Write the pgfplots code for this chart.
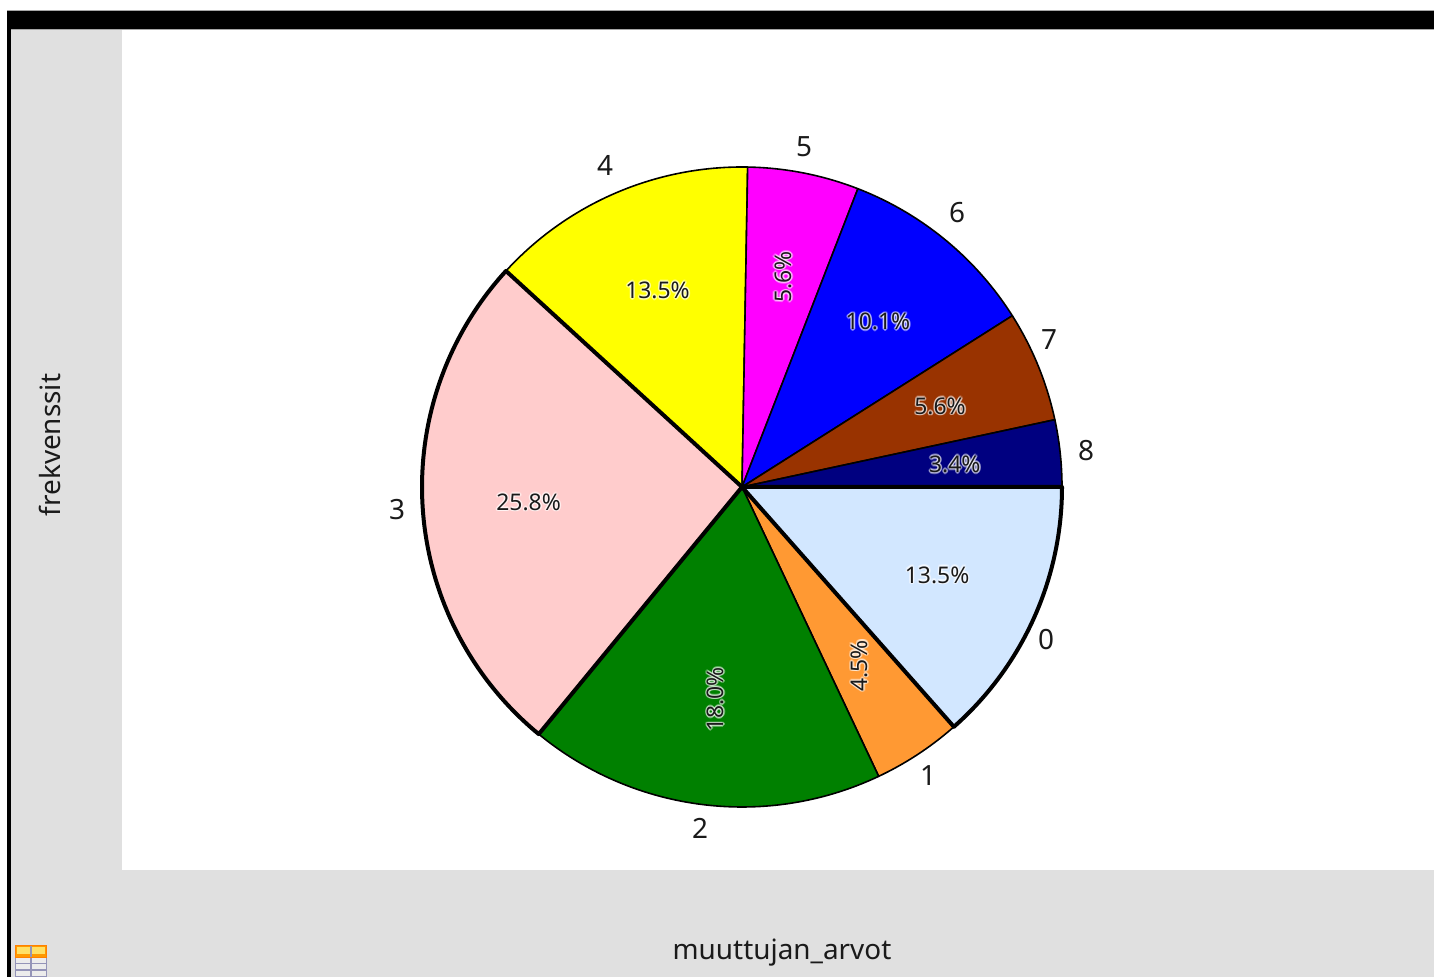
\documentclass[border=0pt]{standalone}
\usepackage{pgfplots}
\pgfplotsset{compat=1.18}
\usepackage{pgfplotstable}
\usepackage{fontspec}
\setmainfont{Noto Sans}

\definecolor{c0}{RGB}{210,231,255}
\definecolor{c1}{RGB}{255,153,51}
\definecolor{c2}{RGB}{0,128,0}
\definecolor{c3}{RGB}{255,204,204}
\definecolor{c4}{RGB}{255,255,0}
\definecolor{c5}{RGB}{255,0,255}
\definecolor{c6}{RGB}{0,0,255}
\definecolor{c7}{RGB}{153,51,0}
\definecolor{c8}{RGB}{0,0,128}
\definecolor{panel}{RGB}{224,224,224}
\definecolor{txt}{RGB}{26,26,26}

\newcommand\catfont{\fontsize{28}{32}\selectfont}
\newcommand\pctfont{\fontsize{23}{28}\selectfont}
\newcommand\titlefont{\fontsize{28}{32}\selectfont}

% category, count, label rotation, bold outline, category label position
\pgfplotstableread{
cat count rot thick lx ly
0 12 0 1 1046 337
1 4 90 0 928 201
2 16 90 0 700 149
3 23 0 1 397 467
4 12 0 0 605 812
5 5 90 0 804 830
6 9 0 0 957 764
7 5 0 0 1049 637
8 3 0 0 1086 526
}\piedata

\newcommand\halo[4]{%
\node[text=white,opacity=0.4,rotate=#3,font=\pctfont] at ([shift={(1.6bp,0bp)}]axis cs:#1,#2) {#4};
\node[text=white,opacity=0.4,rotate=#3,font=\pctfont] at ([shift={(-1.6bp,0bp)}]axis cs:#1,#2) {#4};
\node[text=white,opacity=0.4,rotate=#3,font=\pctfont] at ([shift={(0bp,1.6bp)}]axis cs:#1,#2) {#4};
\node[text=white,opacity=0.4,rotate=#3,font=\pctfont] at ([shift={(0bp,-1.6bp)}]axis cs:#1,#2) {#4};
\node[text=white,opacity=0.4,rotate=#3,font=\pctfont] at ([shift={(1.1bp,1.1bp)}]axis cs:#1,#2) {#4};
\node[text=white,opacity=0.4,rotate=#3,font=\pctfont] at ([shift={(-1.1bp,1.1bp)}]axis cs:#1,#2) {#4};
\node[text=white,opacity=0.4,rotate=#3,font=\pctfont] at ([shift={(1.1bp,-1.1bp)}]axis cs:#1,#2) {#4};
\node[text=white,opacity=0.4,rotate=#3,font=\pctfont] at ([shift={(-1.1bp,-1.1bp)}]axis cs:#1,#2) {#4};
\node[text=txt,rotate=#3,font=\pctfont] at (axis cs:#1,#2) {#4};
}

\begin{document}
\begin{tikzpicture}[x=1bp,y=1bp]
\useasboundingbox (0,0) rectangle (1434,977);
\fill[white] (0,0) rectangle (1434,977);
\fill[panel] (11,0) rectangle (1434,948);
\fill[white] (122,107) rectangle (1434,948);
\fill[black] (7,948) rectangle (1434,966);
\fill[black] (7,0) rectangle (11,966);
\draw[gray!70,line width=0.8] (7,966.4) -- (1434,966.4);
\draw[gray!70,line width=0.8] (11,947.6) -- (1434,947.6);
% table icon
\fill[orange!80!yellow] (15,20) rectangle (47,32);
\fill[orange!40!yellow!60] (17,23) rectangle (30,30);
\fill[orange!40!yellow!60] (32,23) rectangle (45,30);
\fill[gray!15] (15,0) rectangle (47,20);
\draw[blue!20!gray!70,line width=1.2] (15.6,0) -- (15.6,20) (31,0) -- (31,32) (46.4,0) -- (46.4,20)
  (15,13.5) -- (47,13.5) (15,7) -- (47,7) (15,0.6) -- (47,0.6);
\draw[orange,line width=1] (15.5,20) rectangle (46.5,31.5);
% axis titles
\node[rotate=90,font=\titlefont,text=txt] at (50,532) {frekvenssit};
\node[font=\titlefont,text=txt] at (782,24) {muuttujan\_arvot};

\begin{axis}[at={(0,0)},anchor=origin,x=1bp,y=1bp,xmin=0,xmax=1434,ymin=0,ymax=977,
  hide axis,clip=false,scale only axis]
\pgfkeys{/pgf/number format/.cd,fixed,fixed zerofill,precision=1,assume math mode=true}
% total
\def\total{0}
\pgfplotsforeachungrouped \i in {0,...,8}{%
  \pgfplotstablegetelem{\i}{count}\of\piedata
  \pgfmathsetmacro\total{\total+\pgfplotsretval}%
}
% slices
\def\cum{0}
\pgfplotsforeachungrouped \i in {0,...,8}{%
  \pgfplotstablegetelem{\i}{count}\of\piedata
  \let\n\pgfplotsretval
  \pgfplotstablegetelem{\i}{rot}\of\piedata
  \let\rr\pgfplotsretval
  \pgfplotstablegetelem{\i}{lx}\of\piedata
  \let\lx\pgfplotsretval
  \pgfplotstablegetelem{\i}{ly}\of\piedata
  \let\ly\pgfplotsretval
  \pgfmathsetmacro\sa{-\cum/\total*360}%
  \pgfmathsetmacro\cum{\cum+\n}%
  \pgfmathsetmacro\sb{-\cum/\total*360}%
  \pgfmathsetmacro\sm{(\sa+\sb)/2}%
  \pgfmathsetmacro\px{742+214*cos(\sm)}%
  \pgfmathsetmacro\py{490+214*sin(\sm)}%
  \pgfmathparse{\n/\total*100}%
  \pgfmathprintnumberto{\pgfmathresult}{\pct}%
  \edef\temp{%
    \noexpand\addplot[fill=c\i,draw=black,line width=1.6bp,line join=round,domain=\sb:\sa,samples=120]
      ({742+320*cos(x)},{490+320*sin(x)}) -- (axis cs:742,490) -- cycle;
    \noexpand\node[font=\noexpand\catfont,text=txt] at (axis cs:\lx,\ly) {\i};
    \noexpand\halo{\px}{\py}{\rr}{\pct\noexpand\%}%
  }\temp
}
% bold outlines
\def\cum{0}
\pgfplotsforeachungrouped \i in {0,...,8}{%
  \pgfplotstablegetelem{\i}{count}\of\piedata
  \let\n\pgfplotsretval
  \pgfplotstablegetelem{\i}{thick}\of\piedata
  \let\tk\pgfplotsretval
  \pgfmathsetmacro\sa{-\cum/\total*360}%
  \pgfmathsetmacro\cum{\cum+\n}%
  \pgfmathsetmacro\sb{-\cum/\total*360}%
  \ifnum\tk=1
  \edef\temp{%
    \noexpand\addplot[draw=black,line width=4bp,line join=round,domain=\sb:\sa,samples=120]
      ({742+320*cos(x)},{490+320*sin(x)}) -- (axis cs:742,490) -- cycle;
  }\temp
  \fi
}
\end{axis}
\end{tikzpicture}
\end{document}
